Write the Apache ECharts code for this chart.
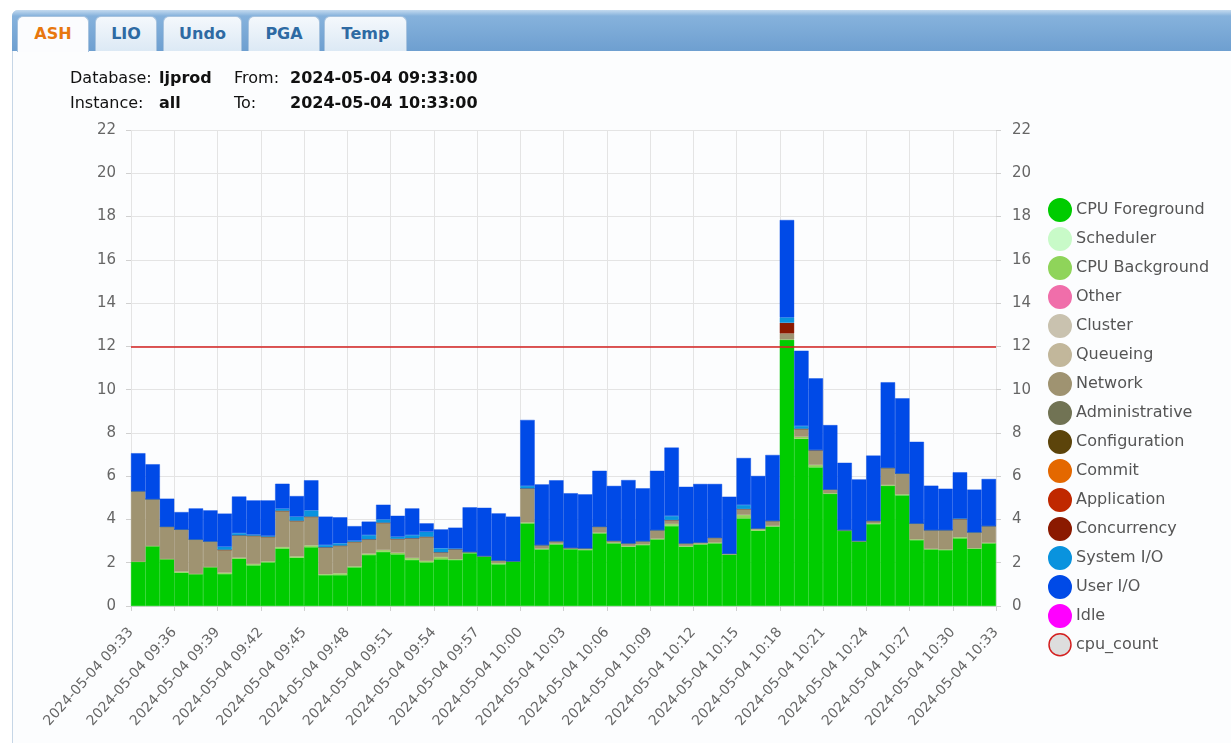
<!DOCTYPE html>
<html>
<head>
<meta charset="utf-8">
<title>ASH</title>
<script src="https://cdn.jsdelivr.net/npm/echarts@6/dist/echarts.min.js"></script>
<style>
  html, body { margin: 0; padding: 0; background: #ffffff; }
  body { width: 1231px; height: 743px; position: relative; overflow: hidden; font-family: "DejaVu Sans", Verdana, sans-serif; }
  #panel {
    position: absolute; left: 12px; top: 10px; width: 1240px; height: 760px;
    border: 1px solid #c6d6e6; border-radius: 6px 0 0 0; background: #fcfdfe;
  }
  #tabbar {
    position: absolute; left: 12px; top: 10px; width: 1240px; height: 41px;
    border-radius: 6px 0 0 0;
    background: linear-gradient(#c4daef 0px, #86b2dc 6px, #6e9fd0 41px);
  }
  .tab {
    position: absolute; top: 16px; height: 34px; line-height: 34px;
    text-align: center; font-weight: bold; font-size: 16px; color: #2e6aa3;
    border: 1px solid #a7c3df; border-bottom: none; border-radius: 6px 6px 0 0;
    background: linear-gradient(#f4f8fc, #dce9f5);
  }
  .tab.active { color: #e8770e; background: #fbfcfe; height: 35px; }
  #info { position: absolute; left: 70px; top: 68px; font-size: 16px; color: #111; z-index: 2; }
  #info div { position: absolute; white-space: nowrap; }
  #info b { font-weight: bold; }
  #chart { position: absolute; left: 0; top: 0; width: 1231px; height: 743px; z-index: 1; }
</style>
</head>
<body>
<div id="panel"></div>
<div id="tabbar"></div>
<div class="tab active" style="left:17px;width:70px;">ASH</div>
<div class="tab" style="left:95px;width:60px;">LIO</div>
<div class="tab" style="left:163px;width:77px;">Undo</div>
<div class="tab" style="left:248px;width:70px;">PGA</div>
<div class="tab" style="left:324px;width:81px;">Temp</div>
<div id="info">
  <div style="left:0;top:0;">Database:</div>
  <div style="left:89px;top:0;"><b>ljprod</b></div>
  <div style="left:164px;top:0;">From:</div>
  <div style="left:220px;top:0;"><b>2024-05-04 09:33:00</b></div>
  <div style="left:0;top:25px;">Instance:</div>
  <div style="left:89px;top:25px;"><b>all</b></div>
  <div style="left:164px;top:25px;">To:</div>
  <div style="left:220px;top:25px;"><b>2024-05-04 10:33:00</b></div>
</div>
<div id="chart"></div>
<script>
// x tick labels, every 3 minutes
const tickLabels = [
  '2024-05-04 09:33', '2024-05-04 09:36', '2024-05-04 09:39', '2024-05-04 09:42',
  '2024-05-04 09:45', '2024-05-04 09:48', '2024-05-04 09:51', '2024-05-04 09:54',
  '2024-05-04 09:57', '2024-05-04 10:00', '2024-05-04 10:03', '2024-05-04 10:06',
  '2024-05-04 10:09', '2024-05-04 10:12', '2024-05-04 10:15', '2024-05-04 10:18',
  '2024-05-04 10:21', '2024-05-04 10:24', '2024-05-04 10:27', '2024-05-04 10:30',
  '2024-05-04 10:33'
];

const waitClasses = ['CPU Foreground', 'Scheduler', 'CPU Background', 'Other', 'Cluster',
  'Queueing', 'Network', 'Administrative', 'Configuration', 'Commit', 'Application',
  'Concurrency', 'System I/O', 'User I/O', 'Idle'];
const classColors = ['#00cc00', '#c8fac8', '#8fd45a', '#f06eaa', '#c9c2af',
  '#c2b79b', '#9f9371', '#717354', '#5c440b', '#e46800', '#c02800',
  '#8b1a00', '#0993de', '#004ae7', '#ff00ff'];

// average active sessions per minute, 09:33 .. 10:32
const cpuFg = [2.05, 2.77, 2.17, 1.54, 1.48, 1.80, 1.48, 2.19, 1.88, 2.02,
  2.66, 2.23, 2.72, 1.43, 1.43, 1.79, 2.36, 2.50, 2.39, 2.13,
  2.02, 2.16, 2.13, 2.44, 2.28, 1.93, 2.05, 3.82, 2.62, 2.85,
  2.63, 2.59, 3.36, 2.90, 2.74, 2.82, 3.08, 3.70, 2.74, 2.85,
  2.90, 2.37, 4.05, 3.48, 3.67, 12.30, 7.73, 6.41, 5.18, 3.47,
  2.97, 3.79, 5.55, 5.12, 3.05, 2.62, 2.59, 3.13, 2.65, 2.90];
const scheduler = [];
const cpuBg = [0, 0, 0, 0.05, 0, 0, 0.06, 0.04, 0.06, 0.04,
  0.06, 0.06, 0.08, 0.04, 0.08, 0.04, 0.06, 0.09, 0.07, 0.09,
  0.06, 0.10, 0.03, 0.06, 0.03, 0.05, 0.02, 0.04, 0.03, 0.03,
  0.02, 0.02, 0.03, 0.03, 0.03, 0.03, 0.03, 0.09, 0.03, 0.02,
  0.03, 0.02, 0.16, 0.04, 0.03, 0.02, 0.09, 0.11, 0.03, 0.02,
  0.02, 0.03, 0.04, 0.04, 0.03, 0.02, 0.02, 0.05, 0.02, 0.02];
const other = [];
const cluster = [];
const queueing = [];
const network = [3.26, 2.17, 1.50, 1.95, 1.60, 1.19, 1.06, 1.03, 1.31, 1.14,
  1.68, 1.65, 1.33, 1.24, 1.28, 1.14, 0.66, 1.26, 0.64, 0.91,
  1.12, 0.22, 0.46, 0, 0, 0.13, 0, 1.57, 0.17, 0.12,
  0.04, 0.06, 0.28, 0.09, 0.13, 0.15, 0.40, 0.18, 0.13, 0.07,
  0.23, 0.03, 0.27, 0.07, 0.24, 0.28, 0.37, 0.66, 0.15, 0.02,
  0.02, 0.12, 0.80, 0.97, 0.74, 0.87, 0.90, 0.84, 0.74, 0.78];
const administrative = [];
const configuration = [];
const commit = [];
const application = [];
const concurrency = [0, 0, 0, 0, 0, 0, 0, 0, 0, 0,
  0, 0, 0, 0, 0, 0, 0, 0, 0, 0,
  0, 0, 0, 0, 0, 0, 0, 0, 0, 0,
  0, 0, 0, 0, 0, 0, 0, 0, 0, 0,
  0, 0, 0, 0, 0, 0.49, 0, 0.03, 0.03, 0,
  0, 0, 0, 0, 0, 0, 0, 0, 0, 0];
const systemIO = [0, 0, 0, 0, 0, 0, 0.14, 0.11, 0.05, 0.04,
  0.10, 0.19, 0.29, 0.11, 0.11, 0.05, 0.20, 0.15, 0.10, 0.15,
  0.23, 0.19, 0.04, 0, 0, 0, 0, 0.12, 0, 0,
  0, 0, 0, 0, 0, 0, 0, 0.19, 0, 0,
  0, 0, 0.19, 0, 0, 0.25, 0.13, 0, 0, 0,
  0, 0, 0, 0, 0, 0, 0, 0.03, 0, 0];
const userIO = [1.75, 1.61, 1.29, 0.80, 1.43, 1.43, 1.53, 1.69, 1.58, 1.64,
  1.15, 0.95, 1.39, 1.31, 1.20, 0.67, 0.62, 0.68, 0.97, 1.23,
  0.39, 0.87, 0.96, 2.06, 2.23, 2.17, 2.06, 3.05, 2.80, 2.81,
  2.52, 2.49, 2.58, 2.53, 2.92, 2.44, 2.74, 3.16, 2.61, 2.70,
  2.48, 2.63, 2.17, 2.42, 3.04, 4.50, 3.48, 3.31, 2.97, 3.11,
  2.84, 3.01, 3.95, 3.47, 3.77, 2.05, 1.91, 2.13, 1.97, 2.17];
const idle = [];

const cpuCount = 12;

const classValues = [cpuFg, scheduler, cpuBg, other, cluster, queueing, network,
  administrative, configuration, commit, application, concurrency, systemIO, userIO, idle];

const chart = echarts.init(document.getElementById('chart'), null, { renderer: 'canvas' });

// one slot per minute on a hidden category axis
const minuteSlots = cpuFg.map((_, i) => i);

const barSeries = waitClasses.map((name, k) => ({
  name: name,
  type: 'bar',
  stack: 'ash',
  xAxisIndex: 0,
  barCategoryGap: '0%',
  data: classValues[k],
  itemStyle: { color: classColors[k], borderColor: classColors[k], borderWidth: 0.4 },
  emphasis: { disabled: true }
}));

const axisFont = { fontFamily: 'DejaVu Sans', color: '#666', fontSize: 15 };

const option = {
  animation: false,
  textStyle: { fontFamily: 'DejaVu Sans' },
  grid: { left: 131, right: 235, top: 130, bottom: 137 },
  legend: {
    orient: 'vertical',
    left: 1048,
    top: 198,
    padding: 0,
    itemWidth: 22,
    itemHeight: 22,
    itemGap: 5,
    icon: 'circle',
    textStyle: { fontFamily: 'DejaVu Sans', fontSize: 16, color: '#555' },
    data: waitClasses.concat(['cpu_count']).map((name) => name === 'cpu_count'
      ? { name: name, icon: 'circle', itemStyle: { color: '#dddddd', borderColor: '#d42020', borderWidth: 1.5 } }
      : { name: name })
  },
  xAxis: [{
    type: 'category',
    position: 'bottom',
    data: minuteSlots,
    show: false
  }, {
    type: 'value',
    position: 'bottom',
    offset: 0,
    min: 0,
    max: 60,
    interval: 3,
    axisLine: { show: true, onZero: false, lineStyle: { color: '#d8d8d8' } },
    axisTick: { show: true, length: 5, lineStyle: { color: '#d0d0d0' } },
    splitLine: { show: true, lineStyle: { color: '#e4e4e4' } },
    axisLabel: {
      ...axisFont,
      fontSize: 14,
      rotate: 48,
      margin: 24,
      formatter: (val) => tickLabels[Math.round(val / 3)]
    }
  }],
  yAxis: [{
    type: 'value',
    min: 0,
    max: 22,
    interval: 2,
    axisLine: { show: false },
    axisTick: { show: true, length: 5, lineStyle: { color: '#d0d0d0' } },
    splitLine: { show: true, lineStyle: { color: '#e4e4e4' } },
    axisLabel: { ...axisFont, margin: 15 }
  }, {
    type: 'value',
    position: 'right',
    min: 0,
    max: 22,
    interval: 2,
    axisLine: { show: false },
    axisTick: { show: true, length: 5, lineStyle: { color: '#d0d0d0' } },
    splitLine: { show: false },
    axisLabel: { ...axisFont, margin: 16 }
  }],
  series: barSeries.concat([{
    name: 'cpu_count',
    type: 'line',
    xAxisIndex: 1,
    data: [],
    itemStyle: { color: '#d42020' },
    markLine: {
      silent: true,
      symbol: 'none',
      label: { show: false },
      lineStyle: { color: '#d42020', width: 1.5, type: 'solid' },
      data: [{ yAxis: cpuCount }]
    }
  }])
};

chart.setOption(option);
</script>
</body>
</html>
